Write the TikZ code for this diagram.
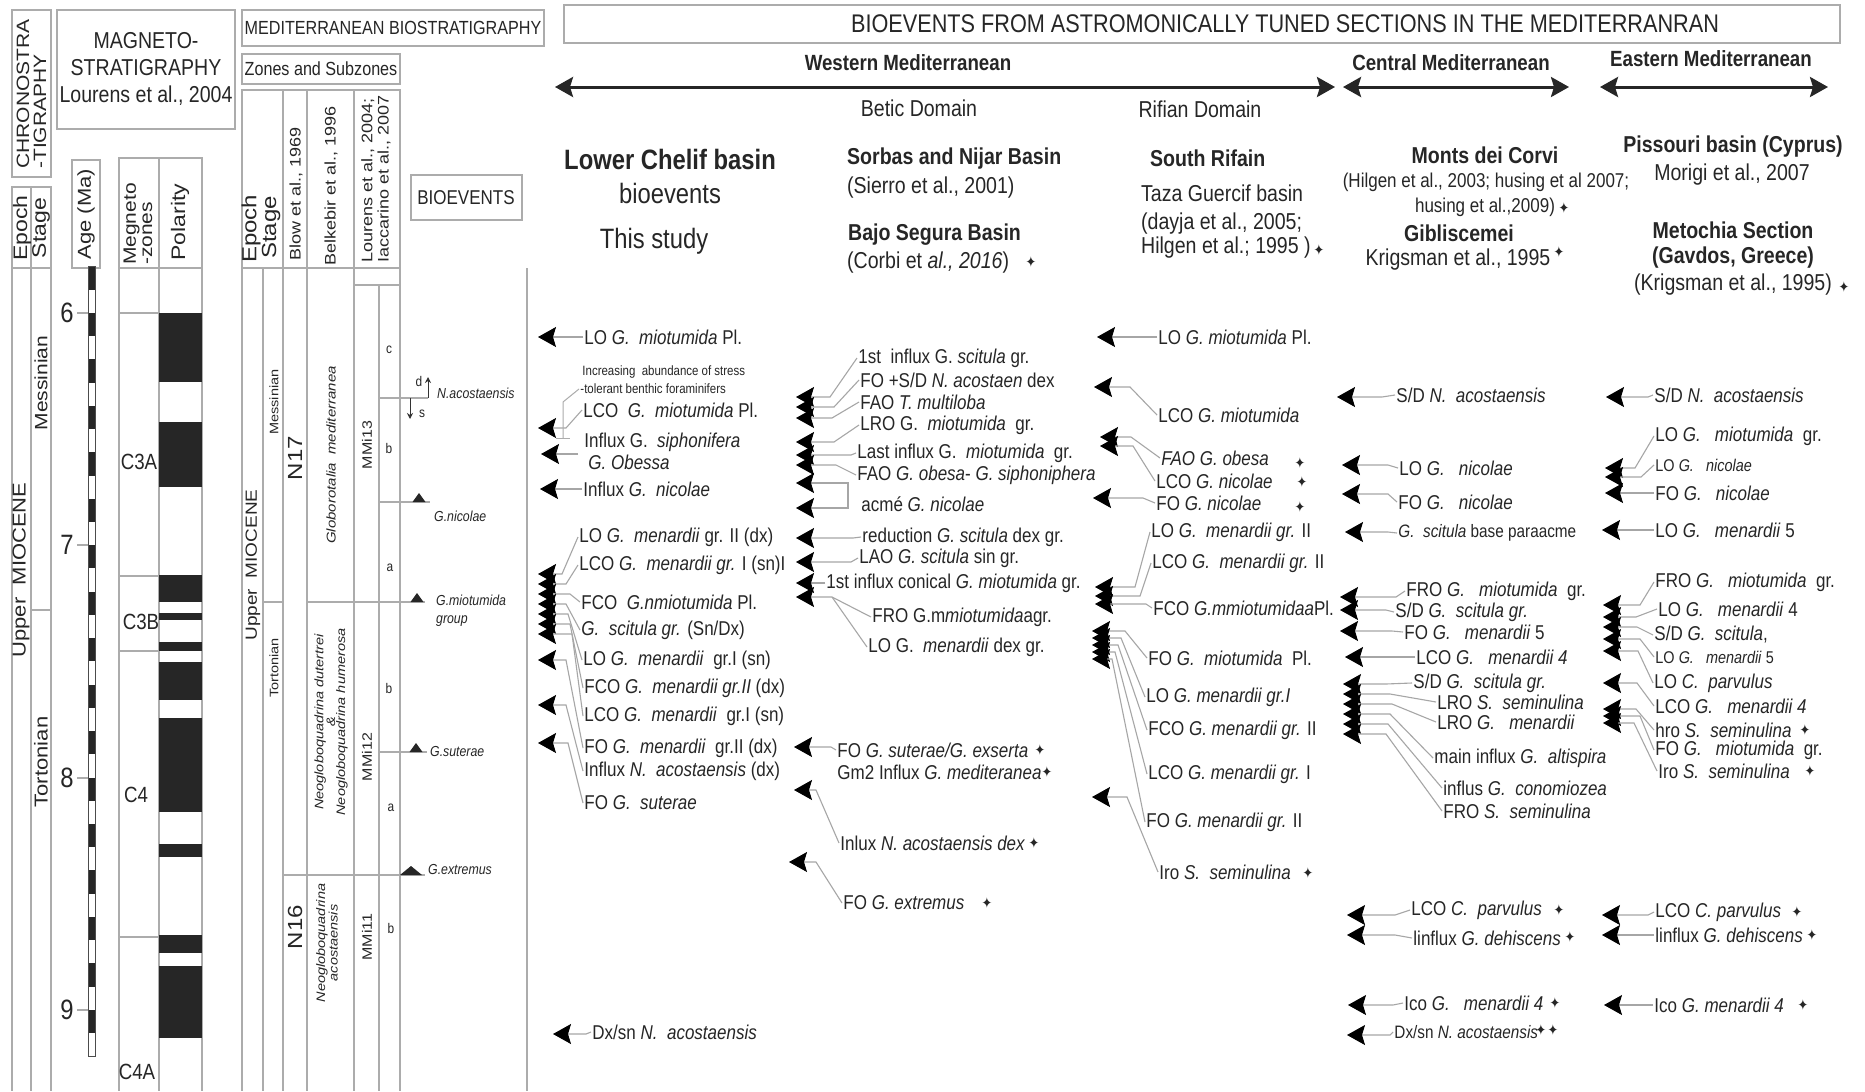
\documentclass[tikz,border=0pt]{standalone}
\usepackage{fontspec}
\setmainfont{Liberation Sans}
\newfontfamily\djv{DejaVu Sans}
\usetikzlibrary{arrows.meta}
\newcommand\fsz[2]{\fontsize{#1bp}{#2bp}\selectfont}
\newcommand\EVT[7]{%
  \node[ev] (#1) at (#2,#3) {#4};
  \coordinate (#1t) at (#5,#6);
  \draw[conn] (#1.west) -- (#7,#6) -- (#1t);}
\newcommand\EVN[4]{\node[ev] (#1) at (#2,#3) {#4};}
\newcommand\PL[3]{\node[plus] (#1) at (#2,#3) {\djv ✦};}
\tikzset{
 lab/.style={inner sep=0pt, xscale=0.85, text=black!85},
 ev/.style={lab, anchor=west, inner sep=1.5bp, font=\fsz{20}{22}},
 hdw/.style={lab, anchor=west, font=\fsz{23}{25}},
 hdc/.style={lab, font=\fsz{23}{25}},
 plus/.style={lab, font=\fsz{15}{15}},
 conn/.style={draw=gray!70, line width=1.1bp, -{Stealth[length=18bp,width=20bp,inset=3bp,color=black]}},
 ln/.style={draw=gray!65, line width=1.2bp},
 bx/.style={draw=gray!65, line width=1.4bp},
 big/.style={draw=black!85, line width=3bp, {Stealth[length=18bp,width=20bp,inset=3bp]}-{Stealth[length=18bp,width=20bp,inset=3bp]}},
 tri/.style={fill=black!85},
 pol/.style={fill=black!85},
}
\begin{document}
\begin{tikzpicture}[x=1bp,y=-1bp]
\useasboundingbox (0,0) rectangle (1865,1091);
\fill[white] (0,0) rectangle (1865,1091);

% ---------------- CHRONOSTRATIGRAPHY ----------------
\draw[bx] (12,10) rectangle (51,177);
\node[lab,rotate=90,align=left,font=\fsz{21}{20}] (chrono) at (31.5,94) {CHRONOSTRA\\-TIGRAPHY};
\draw[bx] (12,187) rectangle (51,268);
\draw[ln] (31,187) -- (31,268);
\node[lab,rotate=90,font=\fsz{23}{23}] (ep1) at (22,228) {Epoch};
\node[lab,rotate=90,font=\fsz{23}{23}] (st1) at (41,228) {Stage};
\draw[ln] (12,268) -- (12,1091);
\draw[ln] (31,268) -- (31,1091);
\draw[ln] (51,268) -- (51,1091);
\draw[ln] (31,610) -- (51,610);
\node[lab,rotate=90,font=\fsz{22}{22}] (um1) at (21,570) {Upper\ \ MIOCENE};
\node[lab,rotate=90,font=\fsz{21}{21}] (me1) at (41,383) {Messinian};
\node[lab,rotate=90,font=\fsz{22}{22}] (to1) at (41,762) {Tortonian};

% ---------------- MAGNETOSTRATIGRAPHY ----------------
\draw[bx] (57,10) rectangle (235,129);
\node[lab,align=center,font=\fsz{23}{27}] (mag) at (146,69) {MAGNETO-\\STRATIGRAPHY\\Lourens et al., 2004};
\draw[bx] (72,160) rectangle (100,268);
\node[lab,rotate=90,font=\fsz{22}{22}] (age) at (86,214) {Age (Ma)};
\draw[bx] (119,158) rectangle (202,268);
\draw[ln] (159,158) -- (159,268);
\node[lab,rotate=90,align=left,font=\fsz{21}{19}] (mz) at (138,224) {Megneto\\-zones};
\node[lab,rotate=90,font=\fsz{23}{23}] (polh) at (180,222) {Polarity};
% age bar
\foreach \i in {0,...,16} \fill[black!85] (88,{266.5+46.46*\i}) rectangle (95,{266.5+46.46*\i+23.23});
\draw[draw=black!70,line width=0.8bp] (88,266.5) rectangle (95,1056);
\foreach \a/\y in {6/313,7/545,8/778,9/1010}{
  \draw[ln] (77,\y) -- (88,\y);
  \node[lab,font=\fsz{28}{28}] (age\a) at (67,\y) {\a};}
% magnetozones and polarity
\draw[ln] (119,268) -- (119,1091);
\draw[ln] (159,268) -- (159,1091);
\draw[ln] (202,268) -- (202,1091);
\foreach \y in {313,576,651,937} \draw[ln] (119,\y) -- (159,\y);
\foreach \a/\b in {313/382,422/487,575/602,613/620,642/651,662/700,718/812,844/857,935/953,966/1038}
  \fill[pol] (159,\a) rectangle (202,\b);
\node[lab,font=\fsz{22}{22}] (c3az) at (139,462) {C3A};
\node[lab,font=\fsz{22}{22}] (c3bz) at (141,622) {C3B};
\node[lab,font=\fsz{22}{22}] (c4z) at (136,795) {C4};
\node[lab,font=\fsz{22}{22}] (c4az) at (137,1072) {C4A};

% ---------------- MEDITERRANEAN BIOSTRATIGRAPHY ----------------
\draw[bx] (242,10) rectangle (544,46);
\node[lab,font=\fsz{19}{19}] (medbio) at (393,28) {MEDITERRANEAN BIOSTRATIGRAPHY};
\draw[bx] (242,54) rectangle (400,84);
\node[lab,font=\fsz{19}{19}] (zs) at (321,69) {Zones and Subzones};
\draw[bx] (242,90) rectangle (400,268);
\foreach \x in {283,307,354} \draw[ln] (\x,90) -- (\x,268);
\node[lab,rotate=90,anchor=west,font=\fsz{24}{24}] (ep2) at (251,263) {Epoch};
\node[lab,rotate=90,anchor=west,font=\fsz{24}{24}] (st2) at (271,259) {Stage};
\node[lab,rotate=90,anchor=west,font=\fsz{18}{18}] (blow) at (296,261) {Blow et al., 1969};
\node[lab,rotate=90,anchor=west,font=\fsz{18}{18}] (belk) at (331,266) {Belkebir et al., 1996};
\node[lab,rotate=90,anchor=west,align=left,font=\fsz{18}{19}] (lour) at (376,263) {Lourens et al., 2004;\\Iaccarino et al., 2007};
\draw[bx] (411,175) rectangle (522,220);
\node[lab,font=\fsz{20}{20}] (bioev) at (466,198) {BIOEVENTS};
\foreach \x in {242,263,283,307,354,400,527} \draw[ln] (\x,268) -- (\x,1091);
\draw[ln] (379,285) -- (379,1091);
\draw[ln] (354,285) -- (400,285);
\draw[ln] (263,602) -- (283,602);
\draw[ln] (307,602) -- (425,602);
\draw[ln] (283,875) -- (425,875);
\draw[ln] (379,398) -- (428,398);
\draw[ln] (379,502) -- (430,502);
\draw[ln] (379,752) -- (427,752);
\node[lab,rotate=90,font=\fsz{19}{19}] (um2) at (253,565) {Upper\ \ MIOCENE};
\node[lab,rotate=90,font=\fsz{14.5}{14.5}] (me2) at (274,402) {Messinian};
\node[lab,rotate=90,font=\fsz{14.5}{14.5}] (to2) at (274,668) {Tortonian};
\node[lab,rotate=90,font=\fsz{24}{24}] (n17) at (295,458) {N17};
\node[lab,rotate=90,font=\fsz{24}{24}] (n16) at (295,927) {N16};
\node[lab,rotate=90,font=\itshape\fsz{15}{15}] (glob) at (331,455) {Globorotalia\ \ mediterranea};
\node[lab,rotate=90,align=center,font=\itshape\fsz{14.5}{10.5}] (neo1) at (331,722) {Neogloboquadrina dutertrei\\\&\\Neogloboquadrina humerosa};
\node[lab,rotate=90,align=center,font=\itshape\fsz{14.5}{12}] (neo2) at (327,943) {Neogloboquadrina\\acostaensis};
\node[lab,rotate=90,font=\fsz{16}{16}] (mmi13) at (367,445) {MMi13};
\node[lab,rotate=90,font=\fsz{16}{16}] (mmi12) at (367,757) {MMi12};
\node[lab,rotate=90,font=\fsz{16}{16}] (mmi11) at (367,937) {MMi11};
\node[lab,font=\fsz{14}{14}] (sc) at (389,350) {c};
\node[lab,font=\fsz{14}{14}] (sb1) at (389,448) {b};
\node[lab,font=\fsz{14}{14}] (sa1) at (390,568) {a};
\node[lab,font=\fsz{14}{14}] (sb2) at (389,688) {b};
\node[lab,font=\fsz{14}{14}] (sa2) at (391,808) {a};
\node[lab,font=\fsz{14}{14}] (sb3) at (391,928) {b};
% markers
\draw[draw=black!80,line width=1bp,-{Stealth[length=6bp,width=6bp]}] (428,398) -- (428,377);
\draw[draw=black!80,line width=1bp,-{Stealth[length=6bp,width=6bp]}] (410,398) -- (410,419);
\node[lab,font=\fsz{14}{14}] (dd) at (419,381) {d};
\node[lab,font=\fsz{14}{14}] (ss) at (422,414) {s};
\node[lab,anchor=west,font=\itshape\fsz{14.5}{14.5}] (nac) at (437,393) {N.acostaensis};
\fill[tri] (412.5,502) -- (425.5,502) -- (419,493) -- cycle;
\node[lab,anchor=west,font=\itshape\fsz{14.5}{14.5}] (gnic) at (434,516) {G.nicolae};
\fill[tri] (410.5,602) -- (423.5,602) -- (417,593) -- cycle;
\node[lab,anchor=west,align=left,font=\itshape\fsz{14.5}{18}] (gmio) at (436,611) {G.miotumida\\group};
\fill[tri] (409.5,752) -- (422.5,752) -- (416,743) -- cycle;
\node[lab,anchor=west,font=\itshape\fsz{14.5}{14.5}] (gsut) at (430,751) {G.suterae};
\fill[tri] (400,875) -- (422,875) -- (411,866) -- cycle;
\node[lab,anchor=west,font=\itshape\fsz{14.5}{14.5}] (gext) at (428,869) {G.extremus};

% ---------------- RIGHT HEADER ----------------
\draw[bx] (564,5) rectangle (1840,43);
\node[lab,font=\fsz{25.5}{25.5}] (title) at (1285,24) {BIOEVENTS FROM ASTROMONICALLY TUNED SECTIONS IN THE MEDITERRANRAN};
\node[lab,font=\bfseries\fsz{22}{22}] (west) at (908,63) {Western Mediterranean};
\node[lab,font=\bfseries\fsz{22}{22}] (cent) at (1451,63) {Central Mediterranean};
\node[lab,font=\bfseries\fsz{22}{22}] (east) at (1711,59) {Eastern Mediterranean};
\coordinate (wl) at (555,87); \coordinate (wr) at (1335,87);
\coordinate (cl) at (1343,87); \coordinate (cr) at (1569,87);
\coordinate (el) at (1600,87); \coordinate (er) at (1828,87);
\draw[big] (wl) -- (wr);
\draw[big] (cl) -- (cr);
\draw[big] (el) -- (er);
\node[hdc] (betic) at (919,108) {Betic Domain};
\node[hdc] (rif) at (1200,109) {Rifian Domain};

\node[lab,font=\bfseries\fsz{28}{28}] (lcb) at (670,159) {Lower Chelif basin};
\node[lab,font=\fsz{28}{28}] (lcb2) at (670,193) {bioevents};
\node[lab,font=\fsz{28}{28}] (lcb3) at (654,241) {This study};

\node[hdw,font=\bfseries\fsz{23}{25}] (sor) at (847,159) {Sorbas and Nijar Basin};
\node[hdw] (sor2) at (847,188) {(Sierro et al., 2001)};
\node[hdw,font=\bfseries\fsz{23}{25}] (bajo) at (848,235) {Bajo Segura Basin};
\node[hdw] (bajo2) at (847,263) {(Corbi et \textit{al., 2016})};
\PL{pb}{1031}{262}

\node[hdw,font=\bfseries\fsz{23}{25}] (sr) at (1150,158) {South Rifain};
\node[hdw] (taza) at (1141,193) {Taza Guercif basin};
\node[hdw] (dayja) at (1141,224) {(dayja et al., 2005;};
\node[hdw] (hil) at (1141,248) {Hilgen et al.; 1995 )};
\PL{ph}{1319}{250}

\node[hdc,font=\bfseries\fsz{23}{25}] (mdc) at (1485,155) {Monts dei Corvi};
\node[hdc,font=\fsz{20}{22}] (mdc2) at (1486,182) {(Hilgen et al., 2003; husing et al 2007;};
\node[hdc,font=\fsz{20}{22}] (mdc3) at (1485,207) {husing et al.,2009)};
\PL{pm}{1564}{208}
\node[hdc,font=\bfseries\fsz{23}{25}] (gib) at (1459,233) {Gibliscemei};
\node[hdc] (kri) at (1458,260) {Krigsman et al., 1995};
\PL{pk}{1559}{252}

\node[hdc,font=\bfseries\fsz{23}{25}] (pis) at (1733,147) {Pissouri basin (Cyprus)};
\node[hdc] (mor) at (1732,175) {Morigi et al., 2007};
\node[hdc,font=\bfseries\fsz{23}{25}] (met) at (1733,230) {Metochia Section};
\node[hdc,font=\bfseries\fsz{23}{25}] (gav) at (1733,258) {(Gavdos, Greece)};
\node[hdc] (kri2) at (1733,285) {(Krigsman et al., 1995)};
\PL{pk2}{1844}{287}

% ---------------- COLUMN 1: Lower Chelif ----------------
\EVT{c1a}{583}{337}{LO \textit{G.\ \ miotumida} Pl.}{538}{337}{578}
\node[ev,font=\fsz{13.5}{14}] (c1b1) at (581,372) {Increasing\ \ abundance of stress};
\node[ev,font=\fsz{13.5}{14}] (c1b2) at (579,389) {-tolerant benthic foraminifers};
\EVT{c1c}{582}{410}{LCO\ \ \textit{G.\ \ miotumida} Pl.}{538}{428}{566}
\draw[ln,line width=1bp] (c1b2.west) -- (563,402) -- (563,438);
\draw[ln,line width=1bp] (556,438) -- (570,438);
\node[ev] (c1d) at (583,442) {Influx G.\ \ \textit{siphonifera}};
\node[ev] (c1e) at (587,462) {\textit{G. Obessa}};
\coordinate (c1de) at (578,454); \coordinate (c1det) at (541,454);
\draw[conn] (c1de) -- (c1det);
\EVT{c1f}{582}{489}{Influx \textit{G.\ \ nicolae}}{540}{489}{577}
\EVT{c1g}{578}{537}{LO \textit{G.\ \ menardii} gr. II (dx)}{538}{574}{562}
\EVT{c1h}{578}{565}{LCO \textit{G.\ \ menardii gr.} I (sn)I}{538}{584}{566}
\EVT{c1i}{580}{602}{FCO\ \ \textit{G.nmiotumida} Pl.}{538}{594}{570}
\EVT{c1j}{580}{630}{\textit{G.\ \ scitula gr.} (Sn/Dx)}{538}{604}{566}
\EVT{c1k}{582}{660}{LO \textit{G.\ \ menardii}\ \ gr.I (sn)}{538}{614}{568}
\EVT{c1l}{583}{688}{FCO \textit{G.\ \ menardii gr.II} (dx)}{538}{624}{570}
\EVT{c1m}{583}{716}{LCO \textit{G.\ \ menardii}\ \ gr.I (sn)}{538}{634}{572}
\EVT{c1n}{583}{748}{FO \textit{G.\ \ menardii}\ \ gr.II (dx)}{538}{660}{566}
\EVT{c1o}{583}{771}{Influx \textit{N.\ \ acostaensis} (dx)}{538}{705}{566}
\EVT{c1p}{583}{803}{FO \textit{G.\ \ suterae}}{538}{743}{568}
\EVT{c1q}{591}{1032}{Dx/sn \textit{N.\ \ acostaensis}}{553}{1034}{586}

% ---------------- COLUMN 2: Betic ----------------
\EVT{c2a}{857}{358}{1st\ \ influx G. \textit{scitula} gr.}{796}{397}{830}
\EVT{c2b}{859}{380}{FO +S/D \textit{N. acostaen} dex}{796}{407}{834}
\EVT{c2c}{859}{402}{FAO \textit{T. multiloba}}{796}{418}{832}
\EVT{c2d}{859}{425}{LRO G.\ \ \textit{miotumida}\ \ gr.}{796}{442}{834}
\EVT{c2e}{856}{453}{Last influx G.\ \ \textit{miotumida}\ \ gr.}{796}{455}{851}
\EVT{c2f}{856}{475}{FAO \textit{G. obesa}- \textit{G. siphoniphera}}{796}{465}{836}
\node[ev] (c2g) at (860,504) {acmé \textit{G. nicolae}};
\coordinate (c2gb) at (848,495);
\coordinate (c2g1) at (796,483); \coordinate (c2g2) at (796,508);
\draw[conn] (c2gb) -- (848,483) -- (c2g1);
\draw[conn] (c2gb) -- (848,508) -- (c2g2);
\EVT{c2h}{861}{537}{reduction \textit{G. scitula} dex gr.}{796}{538}{853}
\EVT{c2i}{858}{558}{LAO \textit{G. scitula} sin gr.}{796}{562}{851}
\EVT{c2j}{825}{583}{1st influx conical \textit{G. miotumida} gr.}{796}{583}{822}
\EVT{c2k}{871}{617}{FRO G.m\textit{miotumida}agr.}{796}{597}{832}
\node[ev] (c2l) at (867,647) {LO G.\ \ \textit{menardii} dex gr.};
\draw[draw=gray!70,line width=1.1bp] (c2l.west) -- (832,597);
\EVT{c2m}{836}{750}{FO \textit{G. suterae/G. exserta}}{794}{747}{831}
\PL{p2m}{1040}{750}
\EVN{c2n}{836}{772}{Gm2 Influx \textit{G. mediteranea}}
\PL{p2n}{1047}{772}
\EVT{c2o}{839}{843}{Inlux \textit{N. acostaensis dex}}{794}{790}{816}
\PL{p2o}{1034}{843}
\EVT{c2p}{842}{903}{FO \textit{G. extremus}}{789}{862}{816}
\PL{p2p}{987}{903}

% ---------------- COLUMN 3: Rifian ----------------
\EVT{c3a}{1157}{337}{LO \textit{G. miotumida} Pl.}{1097}{337}{1152}
\EVT{c3b}{1157}{415}{LCO \textit{G. miotumida}}{1094}{387}{1130}
\EVT{c3c}{1160}{458}{\textit{FAO G. obesa}}{1100}{437}{1131}
\PL{p3c}{1300}{463}
\EVT{c3d}{1155}{481}{LCO \textit{G. nicolae}}{1100}{446}{1133}
\PL{p3d}{1302}{482}
\EVT{c3e}{1155}{503}{FO \textit{G. nicolae}}{1093}{498}{1143}
\PL{p3e}{1300}{507}
\EVT{c3f}{1150}{532}{LO \textit{G.\ \ menardii gr.} II}{1095}{587}{1135}
\EVT{c3g}{1151}{563}{LCO \textit{G.\ \ menardii gr.} II}{1095}{596}{1140}
\EVT{c3h}{1152}{608}{FCO \textit{G.mmiotumidaa}Pl.}{1095}{604}{1146}
\EVT{c3i}{1147}{658}{FO \textit{G.\ \ miotumida}\ \ Pl.}{1092}{631}{1125}
\EVT{c3j}{1145}{697}{LO \textit{G. menardii gr.I}}{1092}{638}{1121}
\EVT{c3k}{1147}{730}{FCO \textit{G. menardii gr.} II}{1092}{645}{1118}
\EVT{c3l}{1147}{774}{LCO \textit{G. menardii gr.} I}{1092}{652}{1115}
\EVT{c3m}{1145}{822}{FO \textit{G. menardii gr.} II}{1092}{659}{1112}
\EVT{c3n}{1158}{872}{Iro \textit{S.\ \ seminulina}}{1092}{797}{1127}
\PL{p3n}{1308}{873}

% ---------------- COLUMN 4: Central ----------------
\EVT{c4a}{1395}{395}{S/D \textit{N.\ \ acostaensis}}{1337}{397}{1382}
\EVT{c4b}{1398}{468}{LO \textit{G.\ \ \ nicolae}}{1342}{465}{1388}
\EVT{c4c}{1397}{502}{FO \textit{G.\ \ \ nicolae}}{1342}{494}{1388}
\EVT{c4d}{1397}{533}{{\fsz{18}{20}\textit{G.\ \ scitula} base paraacme}}{1345}{532}{1388}
\EVT{c4e}{1405}{591}{FRO \textit{G.\ \ \ miotumida}\ \ gr.}{1340}{597}{1396}
\EVT{c4f}{1394}{612}{S/D \textit{G.\ \ scitula gr.}}{1340}{610}{1386}
\EVT{c4g}{1403}{632}{FO \textit{G.\ \ \ menardii} 5}{1340}{631}{1392}
\EVT{c4h}{1415}{657}{LCO \textit{G.\ \ \ menardii 4}}{1345}{657}{1400}
\EVT{c4i}{1412}{683}{S/D \textit{G.\ \ scitula gr.}}{1343}{684}{1386}
\EVT{c4j}{1436}{702}{LRO \textit{S.\ \ seminulina}}{1343}{694}{1390}
\EVT{c4k}{1436}{722}{LRO \textit{G.\ \ \ menardii}}{1343}{704}{1392}
\EVT{c4l}{1433}{758}{main influx \textit{G.\ \ altispira}}{1343}{714}{1390}
\EVT{c4m}{1442}{788}{influs \textit{G.\ \ conomiozea}}{1343}{724}{1388}
\EVT{c4n}{1442}{811}{FRO \textit{S.\ \ seminulina}}{1343}{734}{1386}
\EVT{c4o}{1410}{910}{LCO \textit{C.\ \ parvulus}}{1347}{915}{1395}
\PL{p4o}{1559}{910}
\EVT{c4p}{1412}{938}{linflux \textit{G. dehiscens}}{1347}{935}{1395}
\PL{p4p}{1570}{937}
\EVT{c4q}{1403}{1003}{Ico \textit{G.\ \ \ menardii 4}}{1348}{1005}{1393}
\PL{p4q}{1555}{1003}
\EVT{c4r}{1393}{1032}{{\fsz{18}{20}Dx/sn \textit{N. acostaensis}}}{1347}{1035}{1390}
\PL{p4r1}{1541}{1030}
\PL{p4r2}{1553}{1030}

% ---------------- COLUMN 5: Eastern ----------------
\EVT{c5a}{1653}{395}{S/D \textit{N.\ \ acostaensis}}{1606}{397}{1648}
\EVT{c5b}{1654}{436}{LO \textit{G.\ \ \ miotumida}\ \ gr.}{1605}{468}{1635}
\EVT{c5c}{1654}{465}{{\fsz{17}{19}LO \textit{G.\ \ \ nicolae}}}{1605}{477}{1641}
\EVT{c5d}{1654}{493}{FO \textit{G.\ \ \ nicolae}}{1605}{493}{1648}
\EVT{c5e}{1654}{530}{LO \textit{G.\ \ \ menardii} 5}{1602}{530}{1648}
\EVT{c5f}{1654}{582}{FRO \textit{G.\ \ \ miotumida}\ \ gr.}{1603}{605}{1640}
\EVT{c5g}{1657}{609}{LO \textit{G.\ \ \ menardii} 4}{1603}{617}{1636}
\EVT{c5h}{1653}{635}{S/D \textit{G.\ \ scitula},}{1603}{627}{1637}
\EVT{c5i}{1654}{657}{{\fsz{17}{19}LO \textit{G.\ \ \ menardii} 5}}{1603}{639}{1640}
\EVT{c5j}{1653}{683}{LO \textit{C.\ \ parvulus}}{1603}{651}{1638}
\EVT{c5k}{1654}{706}{LCO \textit{G.\ \ \ menardii 4}}{1603}{683}{1637}
\EVT{c5l}{1654}{730}{hro \textit{S.\ \ seminulina}}{1603}{709}{1636}
\PL{p5l}{1805}{730}
\EVT{c5m}{1654}{750}{FO \textit{G.\ \ \ miotumida}\ \ gr.}{1603}{716}{1640}
\EVT{c5n}{1657}{771}{Iro \textit{S.\ \ seminulina}}{1603}{723}{1634}
\PL{p5n}{1810}{771}
\EVT{c5o}{1654}{912}{LCO \textit{C. parvulus}}{1602}{915}{1648}
\PL{p5o}{1797}{912}
\EVT{c5p}{1654}{935}{linflux \textit{G. dehiscens}}{1602}{935}{1648}
\PL{p5p}{1812}{935}
\EVT{c5q}{1653}{1005}{Ico \textit{G. menardii 4}}{1604}{1005}{1647}
\PL{p5q}{1803}{1005}
\end{tikzpicture}
\end{document}
